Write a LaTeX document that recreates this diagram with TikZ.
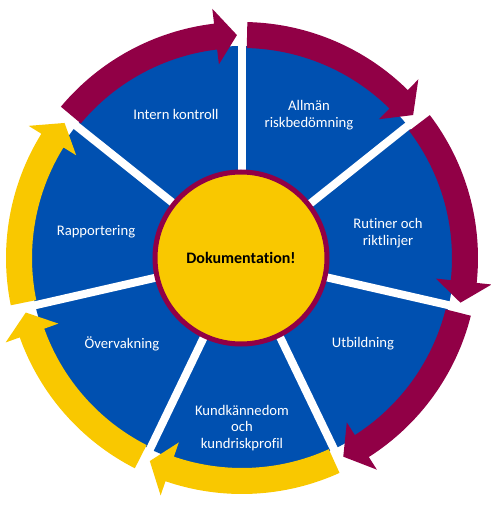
\documentclass[tikz,border=0pt]{standalone}
\usepackage{fontspec}
\setmainfont[Ligatures=NoCommon]{Carlito}
\definecolor{wheelblue}{RGB}{0,80,176}
\definecolor{ringmaroon}{RGB}{145,0,70}
\definecolor{ringyellow}{RGB}{249,200,0}

\begin{document}
\begin{tikzpicture}[
    x=0.75pt, y=0.75pt,
    segtext/.style={text=white, align=center, font=\fontsize{11}{12.5}\selectfont},
    hub/.style={circle, fill=ringyellow, draw=ringmaroon, line width=3.75pt, minimum size=129pt, inner sep=0pt, font=\fontsize{12}{14}\selectfont\bfseries},
    spoke/.style={white, line width=6pt}
]

\useasboundingbox (-242,-252) rectangle (249,258);

\fill[wheelblue] (0,0) circle[radius=212];

% white gaps between the segments
\foreach \s in {90,38.57,-12.86,-64.29,-115.71,-167.14,-218.57}
  \draw[spoke] (0,0) -- (\s:216);

% ring arrows, clockwise
\foreach \a/\c in {141.43/ringmaroon, 90/ringmaroon, 38.57/ringmaroon, -12.86/ringmaroon, -64.29/ringyellow, -115.71/ringyellow, -167.14/ringyellow}{
  \pgfmathsetmacro{\ts}{\a-1.3}
  \pgfmathsetmacro{\hb}{\a-51.43+6.8}
  \pgfmathsetmacro{\tp}{\a-51.43+1.3}
  \fill[\c] (\ts:236) arc[start angle=\ts, end angle=\hb, radius=236] -- (\hb:251) -- (\tp:223) -- (\hb:195) -- (\hb:210) arc[start angle=\hb, end angle=\ts, radius=210] -- cycle;
}

\node[hub] (doc) at (-1,0) {Dokumentation!};

\node[segtext] (intern) at (-66,144) {Intern kontroll};
\node[segtext] (allman) at (67,143) {Allmän\\riskbedömning};
\node[segtext] (rutiner) at (146,25) {Rutiner och\\riktlinjer};
\node[segtext] (utbildning) at (121,-86) {Utbildning};
\node[segtext] (kund) at (0,-170) {Kundkännedom\\och\\kundriskprofil};
\node[segtext] (overvakning) at (-120,-86) {Övervakning};
\node[segtext] (rapportering) at (-146,26) {Rapportering};

\end{tikzpicture}
\end{document}
